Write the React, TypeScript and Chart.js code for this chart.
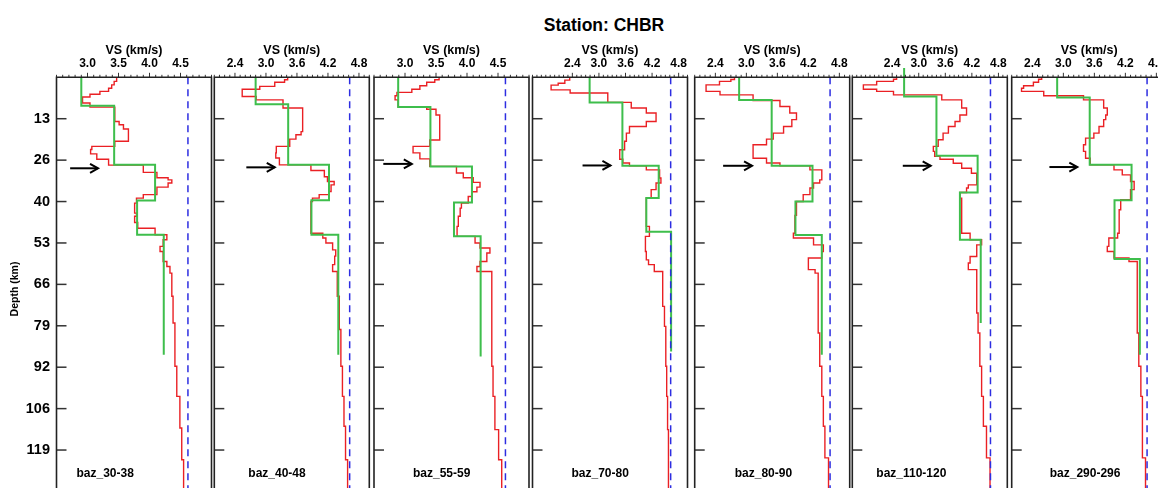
import { useEffect, useRef } from "react";
import { Chart, registerables } from "chart.js";

Chart.register(...registerables);

// ---------------- data ----------------
const PANEL_NAMES = ["baz_30-38", "baz_40-48", "baz_55-59", "baz_70-80", "baz_80-90", "baz_110-120", "baz_290-296"];
const X_MIN = [2.5, 2.0, 2.5, 1.5, 2.0, 1.5, 2.0];
const X_MAX = [5.0, 5.0, 5.0, 5.0, 5.0, 5.0, 5.0];
const MAJOR_A = [3.0, 3.5, 4.0, 4.5];
const MAJOR_B = [2.4, 3.0, 3.6, 4.2, 4.8];
const X_MAJORS = [MAJOR_A, MAJOR_B, MAJOR_A, MAJOR_B, MAJOR_B, MAJOR_B, MAJOR_B];
const X_MINOR_STEP = 0.1;
const DEPTH_TICKS = [13.2, 26.4, 39.6, 52.8, 66.0, 79.2, 92.4, 105.6, 118.8];
const DEPTH_MAX = 130.9;
const REF_VS = 4.62;
const RED_END = 140;

const P1_RED_DEPTH = [0, 1.3, 2.4, 3.5, 4.5, 5.4, 6.3, 8.2, 9.5, 14.1, 15.1, 16.5, 20.4, 22.0, 23.0, 24.4, 26.1, 28.0, 30.3, 32.0, 32.7, 33.7, 35.0, 37.4, 38.5, 40.1, 43.3, 44.3, 46.3, 48.1, 50.2, 51.8, 53.9, 55.5, 58.7, 60.3, 62.4, 69.8, 78.3, 92.1, 101.7, 111.8, 121.9];
const P1_RED_VS = [3.47, 3.43, 3.39, 3.34, 3.20, 3.04, 2.92, 3.04, 3.44, 3.51, 3.58, 3.66, 3.44, 3.07, 3.05, 3.15, 3.34, 3.90, 4.12, 4.30, 4.36, 4.30, 4.12, 3.90, 3.79, 3.76, 3.79, 3.76, 3.81, 4.09, 4.28, 4.22, 4.17, 4.22, 4.28, 4.33, 4.36, 4.38, 4.41, 4.44, 4.49, 4.52, 4.55];
const P1_GREEN_DEPTH = [0, 9.1, 27.9, 39.3, 50.2];
const P1_GREEN_VS = [2.90, 3.43, 4.09, 3.80, 4.23];

const P2_RED_DEPTH = [0, 0.8, 1.6, 2.9, 3.8, 6.1, 7.2, 9.8, 17.3, 18.3, 19.7, 22.0, 24.1, 25.7, 27.9, 29.7, 31.7, 33.2, 34.3, 36.4, 37.4, 38.5, 39.6, 49.7, 51.2, 52.8, 55.0, 57.0, 59.7, 61.9, 69.8, 80.4, 92.1, 101.7, 111.2, 121.9];
const P2_RED_VS = [3.42, 3.36, 3.17, 2.88, 2.54, 2.81, 3.33, 3.71, 3.68, 3.58, 3.46, 3.20, 3.19, 3.26, 3.87, 4.13, 4.19, 4.32, 4.26, 4.22, 4.03, 3.90, 3.87, 4.10, 4.16, 4.29, 4.35, 4.33, 4.29, 4.38, 4.42, 4.45, 4.48, 4.51, 4.54, 4.58];
const P2_GREEN_DEPTH = [0, 8.55, 27.9, 39.2, 50.2];
const P2_GREEN_VS = [2.80, 3.43, 4.22, 3.88, 4.40];

const P3_RED_DEPTH = [0, 0.8, 1.6, 2.7, 3.8, 4.8, 5.9, 7.2, 9.5, 10.2, 12.0, 20.0, 22.0, 24.1, 26.0, 28.4, 30.5, 32.0, 33.5, 35.0, 36.5, 38.0, 40.1, 41.7, 44.3, 47.5, 50.7, 52.8, 54.4, 56.0, 58.7, 60.3, 61.9, 92.1, 101.7, 112.3, 121.9];
const P3_RED_VS = [3.55, 3.48, 3.35, 3.24, 3.11, 2.87, 2.84, 2.89, 3.35, 3.50, 3.56, 3.40, 3.13, 3.24, 3.40, 3.83, 3.94, 4.10, 4.21, 4.16, 4.08, 4.02, 3.91, 3.89, 3.86, 3.84, 4.13, 4.21, 4.37, 4.32, 4.21, 4.16, 4.40, 4.42, 4.45, 4.51, 4.56];
const P3_GREEN_DEPTH = [0, 9.5, 28.4, 39.9, 50.7];
const P3_GREEN_VS = [2.89, 3.41, 4.08, 3.79, 4.22];

const P4_RED_DEPTH = [0, 0.9, 1.9, 2.5, 4.0, 5.0, 8.0, 9.8, 11.4, 14.1, 15.7, 17.8, 20.4, 23.1, 26.1, 27.3, 28.2, 29.5, 32.1, 33.7, 35.8, 38.5, 47.5, 50.7, 55.5, 58.2, 59.7, 61.9, 73.0, 79.4, 92.1, 101.7, 112.3];
const P4_RED_VS = [2.34, 2.23, 2.08, 1.92, 2.35, 3.20, 3.73, 4.07, 4.29, 4.07, 3.69, 3.62, 3.58, 3.47, 3.54, 3.69, 4.07, 4.37, 4.40, 4.29, 4.18, 4.07, 4.14, 4.05, 4.07, 4.12, 4.25, 4.44, 4.48, 4.51, 4.53, 4.55, 4.57];
const P4_GREEN_DEPTH = [0, 8.0, 28.2, 38.5, 49.2];
const P4_GREEN_VS = [2.79, 3.53, 4.35, 4.07, 4.63];

const P5_RED_DEPTH = [0, 0.7, 1.3, 2.4, 4.5, 5.6, 7.4, 9.3, 11.4, 13.5, 15.7, 17.8, 19.7, 21.5, 25.8, 27.3, 28.2, 29.5, 32.7, 33.7, 35.3, 37.4, 39.6, 44.0, 49.7, 51.2, 53.4, 55.5, 57.6, 61.3, 62.4, 81.5, 92.1, 101.7, 111.2, 121.3];
const P5_RED_VS = [2.77, 2.70, 2.48, 2.22, 2.49, 3.13, 3.65, 3.84, 3.97, 3.88, 3.72, 3.52, 3.39, 3.13, 3.39, 3.65, 4.23, 4.46, 4.42, 4.30, 4.23, 4.10, 3.97, 3.94, 3.91, 4.30, 4.49, 4.46, 4.20, 4.33, 4.39, 4.42, 4.46, 4.49, 4.52, 4.59];
const P5_GREEN_DEPTH = [0, 7.2, 28.2, 39.6, 50.3];
const P5_GREEN_VS = [2.86, 3.49, 4.28, 3.95, 4.46];

const P6_RED_DEPTH = [0, 0.6, 1.3, 2.4, 3.8, 4.5, 5.6, 7.2, 9.8, 12.0, 14.1, 15.7, 17.8, 19.9, 22.0, 23.6, 25.2, 26.1, 27.4, 29.0, 30.6, 34.3, 35.3, 36.7, 38.5, 49.7, 51.8, 53.4, 57.1, 59.2, 61.3, 75.1, 81.5, 92.1, 101.7, 111.2, 121.3];
const P6_RED_VS = [2.50, 2.43, 2.05, 1.75, 2.05, 2.43, 3.52, 3.97, 4.08, 3.93, 3.82, 3.67, 3.55, 3.44, 3.33, 3.36, 3.48, 3.78, 3.97, 4.19, 4.31, 4.12, 4.08, 3.93, 3.97, 4.16, 4.42, 4.31, 4.16, 4.12, 4.31, 4.34, 4.38, 4.42, 4.46, 4.53, 4.61];
const P6_GREEN_DEPTH = [-3, 6.1, 25.0, 36.7, 51.8];
const P6_GREEN_VS = [2.67, 3.40, 4.33, 3.93, 4.40];

const P7_RED_DEPTH = [0, 0.6, 1.6, 2.7, 3.5, 4.5, 5.9, 7.2, 9.8, 12.0, 13.5, 15.7, 17.8, 19.4, 21.5, 23.6, 25.8, 27.9, 29.5, 31.1, 33.2, 35.8, 39.0, 42.2, 49.7, 51.2, 53.9, 55.5, 57.6, 58.7, 81.5, 92.1, 101.7, 121.3];
const P7_RED_VS = [2.58, 2.52, 2.42, 2.23, 2.19, 2.62, 3.39, 3.78, 3.85, 3.82, 3.78, 3.69, 3.59, 3.43, 3.39, 3.43, 3.52, 3.98, 4.14, 4.30, 4.37, 4.30, 4.11, 4.08, 4.05, 3.88, 3.85, 3.98, 4.27, 4.43, 4.46, 4.50, 4.53, 4.59];
const P7_GREEN_DEPTH = [0, 6.4, 27.9, 39.2, 57.9];
const P7_GREEN_VS = [2.88, 3.51, 4.32, 3.99, 4.48];

const GREEN_END = [88.4, 88.4, 89.0, 87.4, 88.4, 78.3, 88.4];

const ARROW_DEPTH = [29.0, 28.7, 27.6, 28.1, 28.2, 28.2, 28.6];
const ARROW_FROM = [2.72, 2.62, 2.65, 2.63, 2.55, 2.64, 2.73];
const ARROW_TO = [3.17, 3.17, 3.11, 3.26, 3.11, 3.27, 3.27];

const RED_DEPTHS = [P1_RED_DEPTH, P2_RED_DEPTH, P3_RED_DEPTH, P4_RED_DEPTH, P5_RED_DEPTH, P6_RED_DEPTH, P7_RED_DEPTH];
const RED_VS = [P1_RED_VS, P2_RED_VS, P3_RED_VS, P4_RED_VS, P5_RED_VS, P6_RED_VS, P7_RED_VS];
const GREEN_DEPTHS = [P1_GREEN_DEPTH, P2_GREEN_DEPTH, P3_GREEN_DEPTH, P4_GREEN_DEPTH, P5_GREEN_DEPTH, P6_GREEN_DEPTH, P7_GREEN_DEPTH];
const GREEN_VS = [P1_GREEN_VS, P2_GREEN_VS, P3_GREEN_VS, P4_GREEN_VS, P5_GREEN_VS, P6_GREEN_VS, P7_GREEN_VS];

// ---------------- layout (not data) ----------------
const VIEW_W = 1158;
const VIEW_H = 488;
const CANVAS_W = 1185;
const PANEL_LEFT = [56.5, 214.3, 374, 532.5, 694.7, 852.3, 1011.7];
const PANEL_W = 155;
const PLOT_TOP = 77.3;
const TOP_AXIS_H = 40;
const LABEL_OFFSET = [20, 34, 39, 39, 40, 24, 38];
const LABEL_Y = 473.5;
const DEPTH_TITLE_X = 15;
const DEPTH_TITLE_Y = 289;
const FONT = "'Liberation Sans', Arial, Helvetica, sans-serif";

function stepPoints(tops: number[], vs: number[], end: number) {
  const pts = tops.map((d, k) => ({ x: vs[k], y: d }));
  pts.push({ x: vs[vs.length - 1], y: end });
  return pts;
}

function Panel({ i }: { i: number }) {
  const ref = useRef<HTMLCanvasElement | null>(null);
  useEffect(() => {
    if (!ref.current) return;
    const left = PANEL_LEFT[i];
    const right = left + PANEL_W;
    const majors = X_MAJORS[i];
    const xmin = X_MIN[i];
    const xmax = X_MAX[i];

    const framePlugin = {
      id: "frame" + i,
      afterDraw(chart: any) {
        const { ctx, chartArea: a } = chart;
        const xs = chart.scales.x;
        const ys = chart.scales.y;
        ctx.save();
        // top ruler ticks
        ctx.strokeStyle = "#333";
        ctx.lineWidth = 1;
        const n = Math.round((xmax - xmin) / X_MINOR_STEP);
        for (let k = 0; k <= n; k++) {
          const v = Math.round((xmin + k * X_MINOR_STEP) * 1000) / 1000;
          const px = xs.getPixelForValue(v);
          const isMajor = majors.some((m) => Math.abs(m - v) < 1e-6);
          const len = isMajor ? 4.5 : 2.5;
          ctx.beginPath();
          ctx.moveTo(px, a.top);
          ctx.lineTo(px, a.top - len);
          ctx.stroke();
        }
        // depth ticks (inward)
        ctx.lineWidth = 1.5;
        ctx.strokeStyle = "#333";
        for (const d of DEPTH_TICKS) {
          const py = ys.getPixelForValue(d);
          ctx.beginPath();
          ctx.moveTo(a.left, py);
          ctx.lineTo(a.left + 10, py);
          ctx.stroke();
        }
        // frame
        ctx.lineWidth = 1.6;
        ctx.strokeStyle = "#222";
        ctx.beginPath();
        ctx.moveTo(a.left, VIEW_H + 4);
        ctx.lineTo(a.left, a.top);
        ctx.lineTo(a.right, a.top);
        ctx.lineTo(a.right, VIEW_H + 4);
        ctx.stroke();
        // arrow
        const ay = ys.getPixelForValue(ARROW_DEPTH[i]);
        const ax1 = xs.getPixelForValue(ARROW_FROM[i]);
        const ax2 = xs.getPixelForValue(ARROW_TO[i]);
        ctx.strokeStyle = "#000";
        ctx.lineWidth = 2;
        ctx.beginPath();
        ctx.moveTo(ax1, ay);
        ctx.lineTo(ax2, ay);
        ctx.stroke();
        ctx.beginPath();
        ctx.moveTo(ax2 - 8, ay - 4.5);
        ctx.lineTo(ax2, ay);
        ctx.lineTo(ax2 - 8, ay + 4.5);
        ctx.stroke();
        // panel label
        ctx.fillStyle = "#000";
        ctx.font = "bold 12px " + FONT;
        ctx.textBaseline = "middle";
        ctx.textAlign = "left";
        ctx.fillText(PANEL_NAMES[i], a.left + LABEL_OFFSET[i], LABEL_Y);
        // depth axis title (first panel only)
        if (i === 0) {
          ctx.save();
          ctx.translate(DEPTH_TITLE_X, DEPTH_TITLE_Y);
          ctx.rotate(-Math.PI / 2);
          ctx.textAlign = "center";
          ctx.font = "bold 10.5px " + FONT;
          ctx.fillText("Depth (km)", 0, 0);
          ctx.restore();
        }
        ctx.restore();
      },
    };

    const chart = new Chart(ref.current, {
      type: "line",
      data: {
        datasets: [
          {
            data: [
              { x: REF_VS, y: 0 },
              { x: REF_VS, y: DEPTH_MAX },
            ],
            borderColor: "rgb(45,45,225)",
            borderWidth: 1.5,
            borderDash: [7, 5],
            pointRadius: 0,
            fill: false,
          },
          {
            data: stepPoints(GREEN_DEPTHS[i], GREEN_VS[i], GREEN_END[i]),
            borderColor: "rgb(62,190,76)",
            borderWidth: 2,
            stepped: "after",
            pointRadius: 0,
            fill: false,
            clip: false,
          },
          {
            data: stepPoints(RED_DEPTHS[i], RED_VS[i], RED_END),
            borderColor: "rgb(234,32,36)",
            borderWidth: 1.4,
            stepped: "after",
            pointRadius: 0,
            fill: false,
          },
        ],
      } as any,
      options: {
        responsive: false,
        animation: false,
        events: [],
        layout: {
          padding: {
            left: i === 0 ? 0 : left,
            right: CANVAS_W - right,
            top: PLOT_TOP - TOP_AXIS_H,
            bottom: 0,
          },
        },
        plugins: {
          legend: { display: false },
          tooltip: { enabled: false },
        },
        scales: {
          x: {
            type: "linear",
            position: "top",
            min: xmin,
            max: xmax,
            bounds: "data",
            grid: { display: false, drawTicks: false },
            border: { display: false },
            afterBuildTicks: (s: any) => {
              s.ticks = majors.map((v) => ({ value: v }));
            },
            afterFit: (s: any) => {
              s.height = TOP_AXIS_H;
              s.paddingLeft = 0;
              s.paddingRight = 0;
            },
            ticks: {
              autoSkip: false,
              maxRotation: 0,
              minRotation: 0,
              padding: 6.0,
              color: "#000",
              font: { family: FONT, size: 12, weight: "bold" },
              callback: (v: any) => Number(v).toFixed(1),
            },
            title: {
              display: true,
              text: "VS (km/s)",
              color: "#000",
              font: { family: FONT, size: 12.5, weight: "bold" },
              padding: { top: 5.5, bottom: 0 },
            },
          },
          y: {
            type: "linear",
            position: "left",
            reverse: true,
            min: 0,
            max: DEPTH_MAX,
            bounds: "data",
            grid: { display: false, drawTicks: false },
            border: { display: false },
            afterBuildTicks: (s: any) => {
              s.ticks = DEPTH_TICKS.map((v) => ({ value: v }));
            },
            afterFit: (s: any) => {
              s.width = i === 0 ? PANEL_LEFT[0] : 0;
              s.paddingTop = 0;
              s.paddingBottom = 0;
            },
            ticks: {
              display: i === 0,
              autoSkip: false,
              padding: 6.5,
              color: "#000",
              font: { family: FONT, size: 14.5, weight: "bold" },
              callback: (v: any) => String(Math.round(Number(v))),
            },
            title: { display: false },
          },
        },
      } as any,
      plugins: [framePlugin],
    });
    return () => chart.destroy();
  }, [i]);

  return (
    <canvas
      ref={ref}
      width={CANVAS_W}
      height={VIEW_H}
      style={{ position: "absolute", left: 0, top: 0, width: CANVAS_W, height: VIEW_H }}
    />
  );
}

export default function App() {
  return (
    <div
      style={{
        position: "absolute",
        left: 0,
        top: 0,
        width: VIEW_W,
        height: VIEW_H,
        overflow: "hidden",
        background: "#fff",
      }}
    >
      <div
        style={{
          position: "absolute",
          left: 454,
          top: 14,
          width: 300,
          textAlign: "center",
          fontFamily: FONT,
          fontWeight: "bold",
          fontSize: 17.5,
          lineHeight: "22px",
          color: "#000",
        }}
      >
        Station: CHBR
      </div>
      {PANEL_NAMES.map((_, i) => (
        <Panel key={i} i={i} />
      ))}
    </div>
  );
}
